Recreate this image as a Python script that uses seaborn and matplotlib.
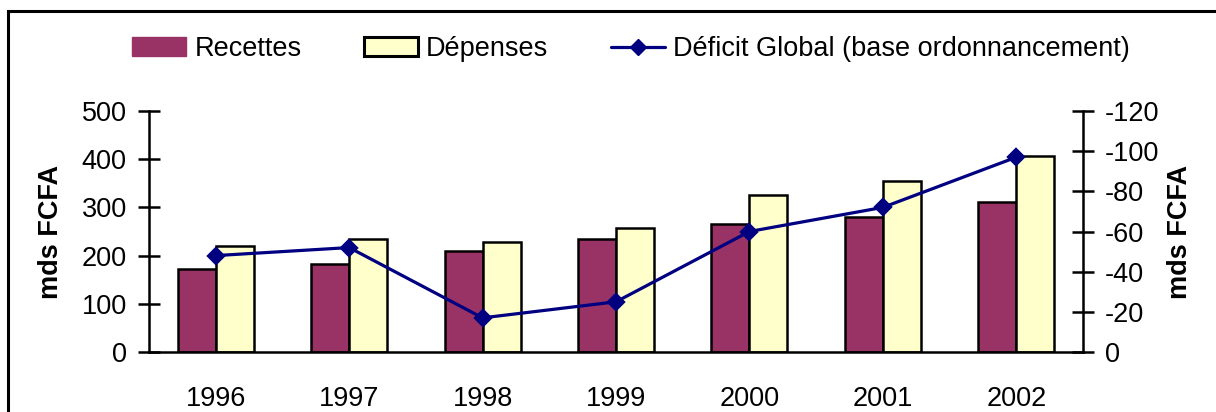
import matplotlib
matplotlib.use("Agg")
import matplotlib.pyplot as plt
from matplotlib.patches import Patch, Rectangle
from matplotlib.lines import Line2D
import seaborn as sns
import pandas as pd
import numpy as np

# Budget data, in billions of FCFA
years = ["1996", "1997", "1998", "1999", "2000", "2001", "2002"]
recettes = [172, 183, 210, 234, 266, 281, 311]
depenses = [220, 234, 228, 258, 326, 355, 407]
deficit = [-48, -52, -17, -25, -60, -72, -97]

left_ticks = [0, 100, 200, 300, 400, 500]
right_ticks = [0, -20, -40, -60, -80, -100, -120]

C_REC = "#993366"
C_DEP = "#FFFFCC"
C_DEF = "#000080"
FS = 19.5
LW = 1.8

sns.set_theme(style="white")
plt.rcParams["font.family"] = ["Liberation Sans", "DejaVu Sans"]
plt.rcParams["axes.unicode_minus"] = False
plt.rcParams["text.color"] = "black"
plt.rcParams["xtick.color"] = "black"
plt.rcParams["ytick.color"] = "black"
plt.rcParams["axes.labelcolor"] = "black"

fig = plt.figure(figsize=(12.16, 4.12), dpi=100)
ax = fig.add_axes([149 / 1216, 1 - 352 / 412, 934 / 1216, 241 / 412])

bars = pd.DataFrame({
    "annee": years * 2,
    "serie": ["Recettes"] * len(years) + ["Dépenses"] * len(years),
    "valeur": recettes + depenses,
})
sns.barplot(data=bars, x="annee", y="valeur", hue="serie",
            hue_order=["Recettes", "Dépenses"],
            palette={"Recettes": C_REC, "Dépenses": C_DEP},
            width=0.57, edgecolor="black", linewidth=LW,
            saturation=1, legend=False, ax=ax)

ax.set_xlim(-0.5, len(years) - 0.5)
ax.set_ylim(0, 500)
ax.set_yticks(left_ticks)
ax.set_yticklabels([str(t) for t in left_ticks], fontsize=FS)

# category separators as major ticks, year labels on minor ticks
ax.set_xticks(np.arange(len(years) + 1) - 0.5)
ax.set_xticklabels([])
ax.set_xticks(np.arange(len(years)), minor=True)
ax.set_xticklabels(years, minor=True, fontsize=FS)
ax.tick_params(axis="x", which="major", direction="inout", length=16, width=LW,
               color="black")
ax.tick_params(axis="x", which="minor", length=0, pad=24.5)
ax.tick_params(axis="y", direction="inout", length=16, width=LW, color="black",
               pad=8, left=True)
ax.set_xlabel("")
ax.set_ylabel("mds FCFA", fontsize=FS, fontweight="bold")
ax.yaxis.label.set_va("center")
ax.yaxis.set_label_coords(-0.105, 0.5)

for side in ["top", "right"]:
    ax.spines[side].set_visible(False)
for side in ["left", "bottom"]:
    ax.spines[side].set_color("black")
    ax.spines[side].set_linewidth(LW)

# deficit line on inverted secondary axis
ax2 = ax.twinx()
sns.pointplot(x=years, y=deficit, ax=ax2, color=C_DEF, markers="D",
              markersize=8.5, linewidth=2.3, errorbar=None)
ax2.set_xlim(-0.5, len(years) - 0.5)
ax2.set_ylim(0, -120)
ax2.set_yticks(right_ticks)
ax2.set_yticklabels([str(t) for t in right_ticks], fontsize=FS)
ax2.tick_params(axis="y", direction="inout", length=16, width=LW, color="black",
                pad=8, right=True)
ax2.set_ylabel("mds FCFA", fontsize=FS, fontweight="bold")
ax2.yaxis.label.set_va("center")
ax2.yaxis.set_label_coords(1.104, 0.5)
for side in ["top", "left", "bottom"]:
    ax2.spines[side].set_visible(False)
ax2.spines["right"].set_color("black")
ax2.spines["right"].set_linewidth(LW)
ax2.grid(False)
ax.grid(False)

handles = [
    Patch(facecolor=C_REC, edgecolor=C_REC, label="Recettes"),
    Patch(facecolor=C_DEP, edgecolor="black", linewidth=2.2, label="Dépenses"),
    Line2D([], [], color=C_DEF, linewidth=2.3, marker="D", markersize=8.5,
           label="Déficit Global (base ordonnancement)"),
]
fig.legend(handles=handles, loc="center", bbox_to_anchor=(631 / 1216, 1 - 49 / 412),
           ncol=3, frameon=False, fontsize=FS, handlelength=2.0, handleheight=0.68,
           handletextpad=0.3, columnspacing=2.3)

# chart frame
fig.add_artist(Rectangle((7.5 / 1216, -0.2), 1.5, 1.2 - 11 / 412,
                         transform=fig.transFigure, fill=False,
                         edgecolor="black", linewidth=2.2, clip_on=False))

fig.savefig("out.png", dpi=100)
